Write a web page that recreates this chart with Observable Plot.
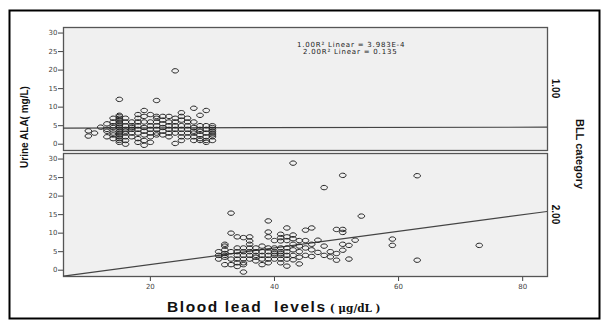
<!DOCTYPE html>
<html><head><meta charset="utf-8">
<script src="https://cdn.jsdelivr.net/npm/d3@7"></script>
<script src="https://cdn.jsdelivr.net/npm/@observablehq/plot@0.6"></script>
<style>body{margin:0;background:#fff}#chart{width:602px;height:320px}</style>
</head><body><div id="chart"></div>
<script>
// BLL categories (facets)
const categories = ["1.00", "2.00"];
// category 1.00: blood lead columns and urine ALA values in each column
const lowBll = [10, 11, 12, 13, 14, 15, 16, 17, 18, 19, 20, 21, 22, 23, 24, 25, 26, 27, 28, 29, 30];
const lowAla = [
  [3.6, 2.2], [3.0], [4.6], [5.5, 4.0, 3.5, 2.0], [7.0, 6.0, 5.0, 4.5, 3.0, 2.5, 1.5],
  [12.1, 7.8, 7.5, 7.0, 6.5, 6.0, 5.5, 5.0, 4.5, 4.0, 3.5, 3.0, 2.5, 2.0, 1.5, 1.0, 0.5],
  [7.0, 6.0, 5.0, 4.0, 3.5, 3.0, 2.0, 1.0, 0.0], [6.0, 5.0, 4.5, 4.0, 3.0, 2.0],
  [8.0, 7.0, 6.0, 5.0, 4.0, 3.0, 1.5, 0.5], [9.1, 7.5, 6.0, 4.5, 3.5, 2.5, 1.0, -0.3],
  [8.0, 6.0, 5.0, 4.0, 3.0, 2.0, 0.5], [11.8, 7.5, 7.0, 6.0, 5.0, 4.0, 3.0, 2.5],
  [7.5, 6.5, 5.5, 4.5, 3.5, 2.5], [7.5, 6.0, 5.0, 4.0, 3.0, 2.0],
  [19.8, 7.0, 6.0, 5.0, 4.0, 3.0, 0.2], [8.5, 7.5, 6.5, 5.0, 4.0, 3.0, 2.0, 1.0],
  [7.0, 6.0, 5.0, 4.0, 3.0, 2.0], [9.7, 6.0, 4.5, 3.5, 3.0, 2.0, 1.0],
  [7.8, 5.0, 4.0, 3.5, 2.5, 1.5, 1.0], [9.1, 5.0, 4.0, 3.0, 2.0, 1.0, 0.5],
  [5.0, 4.5, 4.0, 3.5, 3.0, 2.5, 2.0, 1.0]
];
// category 2.00
const highBll = [31, 32, 33, 34, 35, 36, 37, 38, 39, 40, 41, 42, 43, 44, 45, 46, 47, 48, 49, 50, 51, 52, 53, 54, 59, 63, 73];
const highAla = [
  [5.0, 4.0, 3.0], [7.0, 6.5, 5.5, 4.5, 4.0, 3.5, 1.5], [15.4, 10.0, 5.0, 3.0, 1.5],
  [9.0, 6.0, 5.0, 4.0, 3.0, 2.0, 1.0], [8.8, 6.0, 5.0, 4.0, 3.0, 2.0, 1.5, -0.5],
  [9.0, 7.9, 7.0, 6.0, 5.0, 4.0, 3.0], [6.0, 5.0, 4.0, 3.5, 2.5], [6.5, 5.0, 4.0, 3.0, 1.5],
  [13.3, 10.3, 9.0, 6.0, 5.0, 4.0, 3.0, 2.0], [8.0, 6.0, 5.0, 4.5, 4.0, 3.0],
  [9.7, 8.8, 7.9, 6.0, 5.0, 4.5, 4.0, 3.0, 2.0], [11.4, 9.0, 8.0, 6.0, 5.0, 4.0, 3.0, 1.1],
  [28.9, 9.5, 8.5, 7.0, 5.5, 4.0, 2.8], [8.0, 6.5, 5.0, 3.5, 1.7], [10.8, 8.0, 6.0, 4.0],
  [11.4, 7.0, 5.5, 3.7], [8.1, 4.8], [22.3, 6.5, 4.0], [5.0, 3.6], [11.0, 4.5, 2.7],
  [25.6, 11.0, 10.2, 7.0, 5.4], [6.7, 3.0], [8.1], [14.6], [8.4, 6.7], [25.5, 2.7], [6.7]
];
// linear fits per category
const fitIntercept = [4.33, -2.95];
const fitSlope = [0.0032, 0.224];
const fitR2 = ["3.983E-4", "0.135"];
const xTicks = [20, 40, 60, 80];
const yTicks = [0, 5, 10, 15, 20, 25, 30];
const xDomain = [6, 84];
const yDomain = [-1.7, 31.5];

const toRows = (cat, bll, ala) => bll.flatMap((x, i) => ala[i].map(y => ({cat, x, y})));
const points = [...toRows(categories[0], lowBll, lowAla), ...toRows(categories[1], highBll, highAla)];
const lines = categories.flatMap((cat, i) => xDomain.map(x => ({cat, x, y: fitIntercept[i] + fitSlope[i] * x})));

const ellipse = {draw(ctx) {
  const rx = 3.3, ry = 2.2, k = 0.5523;
  ctx.moveTo(rx, 0);
  ctx.bezierCurveTo(rx, k * ry, k * rx, ry, 0, ry);
  ctx.bezierCurveTo(-k * rx, ry, -rx, k * ry, -rx, 0);
  ctx.bezierCurveTo(-rx, -k * ry, -k * rx, -ry, 0, -ry);
  ctx.bezierCurveTo(k * rx, -ry, rx, -k * ry, rx, 0);
  ctx.closePath();
}};

const plot = Plot.plot({
  width: 602, height: 320,
  marginLeft: 63, marginRight: 55, marginTop: 27, marginBottom: 44,
  style: {fontFamily: "DejaVu Sans, sans-serif", fontSize: "7px", color: "#444", background: "transparent"},
  x: {domain: xDomain, ticks: xTicks, tickSize: 5, tickPadding: 3, label: null},
  y: {domain: yDomain, ticks: yTicks, tickSize: 5, tickPadding: 1, label: null},
  fy: {domain: categories, paddingInner: 0.024, paddingOuter: 0, axis: null, label: null},
  marks: [
    Plot.frame({fill: "#f0f0f0", stroke: "#555", strokeWidth: 1.3}),
    Plot.line(lines, {x: "x", y: "y", fy: "cat", stroke: "#444", strokeWidth: 1.2, clip: true}),
    Plot.dot(points, {x: "x", y: "y", fy: "cat", symbol: ellipse, r: 3, stroke: "#222", strokeWidth: 1, fill: "none"})
  ]
});
document.getElementById("chart").appendChild(plot);

const svg = d3.select(plot);
const fy = plot.scale("fy");
const bw = fy.bandwidth;
const narrow = "Liberation Sans Narrow, Liberation Sans, Arial, sans-serif";
// facet labels on the right
categories.forEach(c => {
  const cy = fy.apply(c) + bw / 2;
  svg.append("text").attr("transform", `translate(552,${cy}) rotate(90)`)
    .attr("text-anchor", "middle").attr("font-family", narrow).attr("font-weight", "bold")
    .attr("font-size", 10).attr("fill", "#111").text(c);
});
svg.append("text").attr("transform", "translate(576,154) rotate(90)")
  .attr("text-anchor", "middle").attr("font-family", narrow).attr("font-weight", "bold")
  .attr("font-size", 11).attr("fill", "#111").text("BLL category");
// y title
svg.append("text").attr("transform", "translate(28,127) rotate(-90)")
  .attr("text-anchor", "middle").attr("font-family", narrow).attr("font-weight", "bold")
  .attr("font-size", 10).attr("fill", "#111").text("Urine ALA( mg/L)");
// x title
const xt = svg.append("text").attr("x", 167).attr("y", 312).attr("text-anchor", "start")
  .attr("fill", "#111").attr("font-weight", "bold");
xt.append("tspan").attr("font-family", "Liberation Sans, Arial, sans-serif").attr("font-size", 15.5)
  .attr("letter-spacing", 1.6).text("Blood lead\u00a0 levels");
xt.append("tspan").attr("font-family", "DejaVu Serif, serif").attr("font-size", 10.5).attr("dx", 3).text("( μg/dL )");
// fit legend
const legendPos = [[297, 47.3], [303, 54.3]];
categories.forEach((c, i) => {
  svg.append("text").attr("x", legendPos[i][0]).attr("y", legendPos[i][1]).attr("text-anchor", "start")
    .attr("font-family", "DejaVu Sans, sans-serif").attr("font-size", 7).attr("fill", "#222")
    .attr("letter-spacing", 0.8)
    .text(`${c}R² Linear = ${fitR2[i]}`);
});
// outer border
svg.append("rect").attr("x", 9.5).attr("y", 10.5).attr("width", 590).attr("height", 308)
  .attr("fill", "none").attr("stroke", "#000").attr("stroke-width", 2);
</script>
</body></html>
